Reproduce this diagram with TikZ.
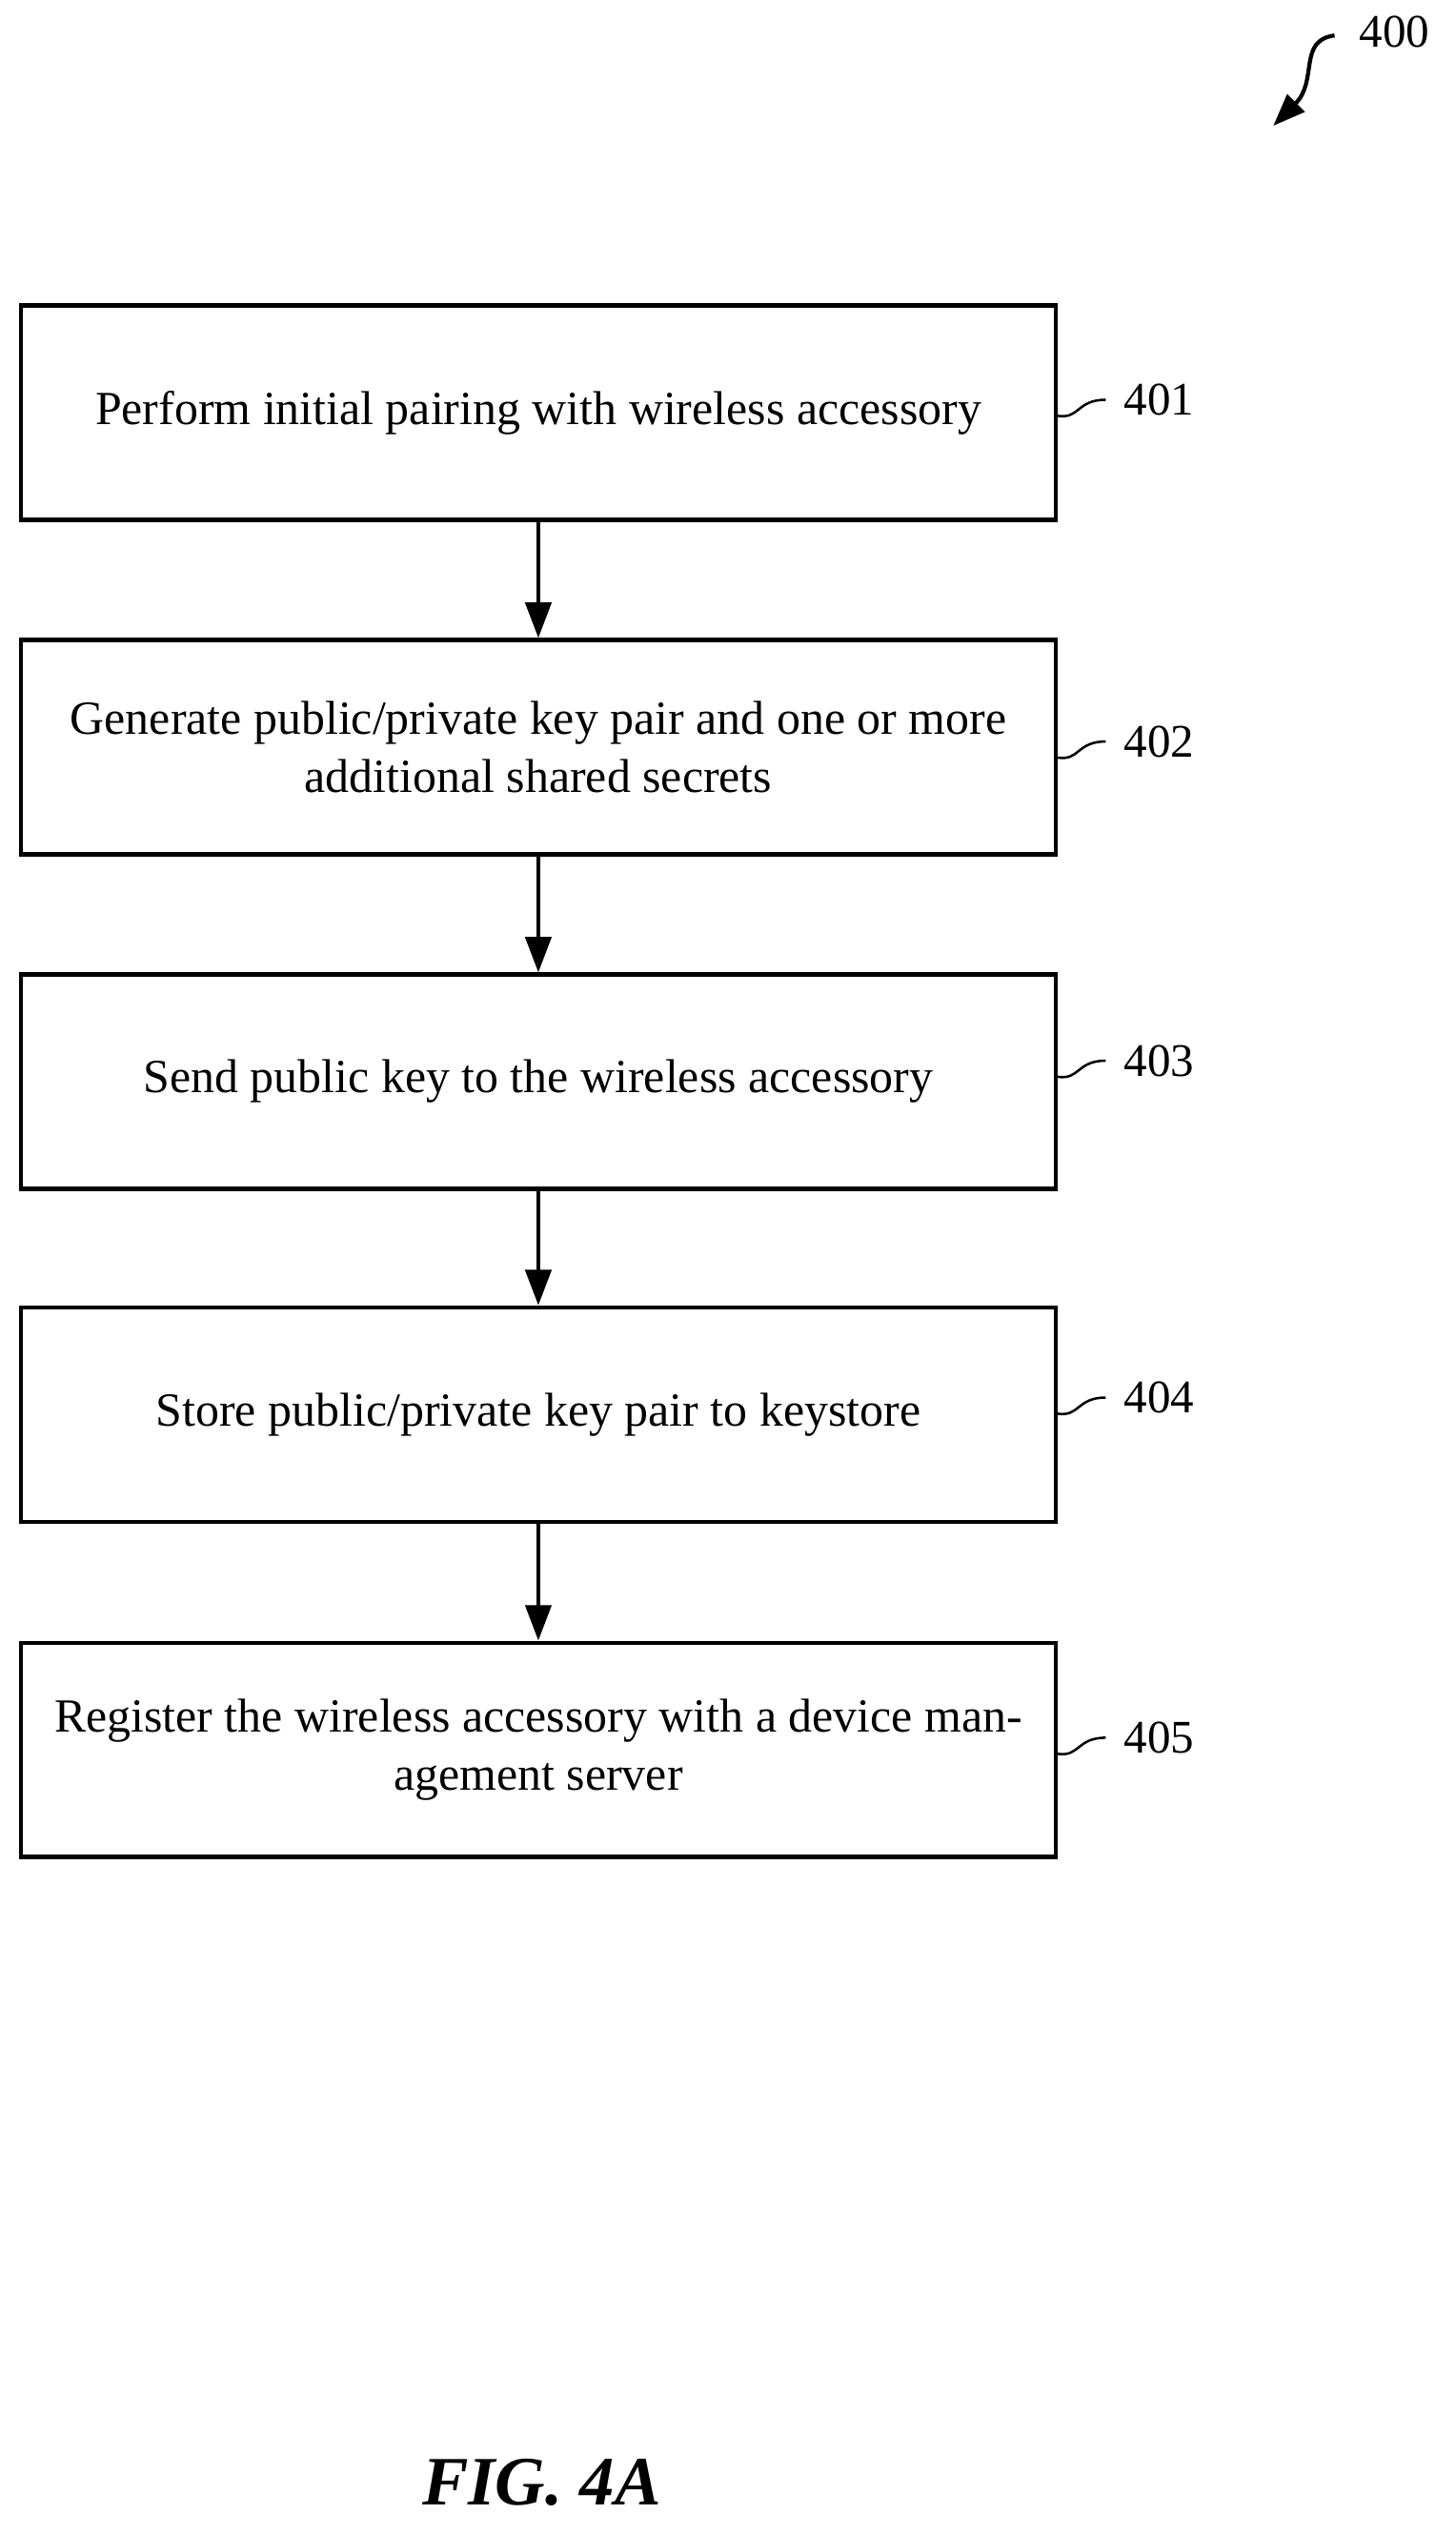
\documentclass[tikz,border=0pt]{standalone}
\usepackage{fontspec}
\setmainfont{Liberation Serif}
\usetikzlibrary{arrows.meta}
\begin{document}
\begin{tikzpicture}[x=1pt,y=-1pt,
  box/.style={draw,line width=2.5pt,minimum width=642pt,minimum height=133pt,align=center,font=\fontsize{29.5}{36}\selectfont,inner sep=0pt},
  lab/.style={font=\fontsize{29}{32}\selectfont,anchor=west},
  flow/.style={line width=2.5pt,-{Triangle[length=22pt,width=16pt]}},
  sq/.style={line width=1.5pt}]
\useasboundingbox (0,0) rectangle (903,1572);
\node[box] (b1) at (334,256) {Perform initial pairing with wireless accessory};
\node[box] (b2) at (334,463.5) {Generate public/private key pair and one or more\\additional shared secrets};
\node[box] (b3) at (334,671) {Send public key to the wireless accessory};
\node[box] (b4) at (334,877.5) {Store public/private key pair to keystore};
\node[box] (b5) at (334,1085.5) {Register the wireless accessory with a device man-\\agement server};
\foreach \a/\b in {b1/b2,b2/b3,b3/b4,b4/b5} \draw[flow] (\a.south) -- (\b.north);
\foreach \n/\t/\y in {b1/401/248,b2/402/460,b3/403/658,b4/404/867,b5/405/1078}{
  \node[lab] (l\t) at (694,\y) {\t};
  \draw[sq] (\n.east |- 0,\y+10) .. controls (670,\y+12) and (668,\y) .. ([xshift=-8pt]l\t.west);
}
\node[lab] (l400) at (840,20) {400};
\coordinate (a400) at (790,78);
\draw[line width=2.5pt,-{Triangle[length=20pt,width=15pt]}] (828,22) .. controls (805,25) and (818,50) .. (a400);
\node[font=\fontsize{43}{45}\selectfont\bfseries\itshape] (fig) at (336,1540) {FIG. 4A};
\end{tikzpicture}
\end{document}
